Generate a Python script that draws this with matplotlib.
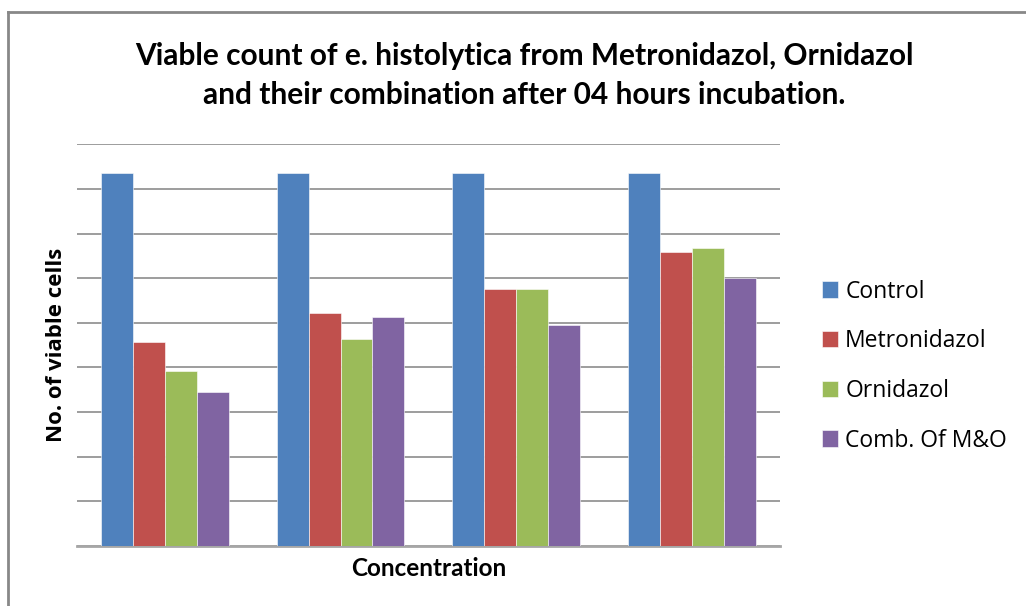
import matplotlib
matplotlib.use("Agg")
import matplotlib.pyplot as plt
import numpy as np
from matplotlib.lines import Line2D

# values in grid units (the y axis has no labels in the source)
groups = ["1", "2", "3", "4"]
control = [8.35, 8.35, 8.35, 8.35]
metronidazol = [4.56, 5.21, 5.76, 6.58]
ornidazol = [3.92, 4.64, 5.76, 6.68]
comb_mo = [3.46, 5.12, 4.96, 6.01]

series_names = ["Control", "Metronidazol", "Ornidazol", "Comb. Of M&O"]
series_vals = [control, metronidazol, ornidazol, comb_mo]
colors = ["#4F81BD", "#C0504D", "#9BBB59", "#8064A2"]

fig = plt.figure(figsize=(10.26, 6.06), dpi=100)
ax = fig.add_axes([0.075, 0.099, 0.685, 0.663])

x = np.arange(len(groups))
w = 0.182
for i, (name, vals, c) in enumerate(zip(series_names, series_vals, colors)):
    ax.bar(x + (i - 1.5) * w, vals, w, color=c, label=name,
           edgecolor="white", linewidth=0.4, zorder=3)

ax.set_xlim(-0.5, 3.5)
ax.set_ylim(0, 9)
ax.set_yticks(range(0, 10))
ax.set_yticklabels([])
ax.set_xticks([])
ax.tick_params(axis="y", length=0)
ax.grid(axis="y", color="#8c8c8c", linewidth=1.2, zorder=0)
for s in ("left", "right", "top"):
    ax.spines[s].set_visible(False)
ax.spines["bottom"].set_color("#a6a6a6")
ax.spines["bottom"].set_linewidth(2)

ax.set_ylabel("No. of viable cells", fontsize=16, fontweight="bold",
              family="Open Sans", labelpad=4)
ax.set_xlabel("Concentration", fontsize=17.5, fontweight="bold",
              family="Lato", labelpad=8)

fig.text(0.511, 0.907, "Viable count of e. histolytica from Metronidazol, Ornidazol",
         ha="center", va="center", fontsize=21.5, fontweight="bold", family="Lato")
fig.text(0.511, 0.843, "and their combination after 04 hours incubation.",
         ha="center", va="center", fontsize=21.5, fontweight="bold", family="Lato")

leg = ax.legend(loc="center left", bbox_to_anchor=(0.801, 0.396),
                bbox_transform=fig.transFigure, frameon=False,
                prop={"family": "Open Sans", "size": 16.5}, borderpad=0,
                borderaxespad=0, handlelength=0.72, handleheight=0.72,
                handletextpad=0.3, labelspacing=1.12)

# outer chart frame (only left and top visible)
fig.add_artist(Line2D([0.008, 0.008], [0, 0.980], color="#888888",
                      linewidth=2, transform=fig.transFigure))
fig.add_artist(Line2D([0.008, 1.0], [0.980, 0.980], color="#888888",
                      linewidth=2, transform=fig.transFigure))

fig.savefig("out.png", dpi=100)
